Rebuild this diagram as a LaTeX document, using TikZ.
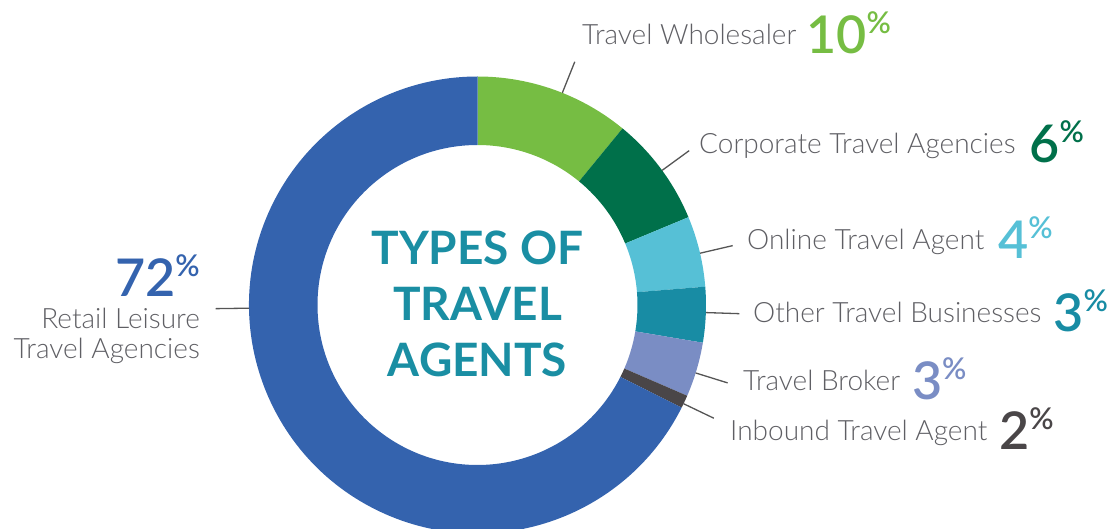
\documentclass[tikz,border=0pt]{standalone}
\usepackage{fontspec}
\setmainfont{Lato}
\newfontfamily\lightfont{Lato Light}
\newfontfamily\semifont{Lato Semibold}
\usepackage{tikz}
\usetikzlibrary{calc,positioning}

\definecolor{retailblue}{HTML}{3463AE}
\definecolor{wholegreen}{HTML}{76BD43}
\definecolor{corpgreen}{HTML}{00704A}
\definecolor{onlineblue}{HTML}{56C0D6}
\definecolor{otherteal}{HTML}{188CA4}
\definecolor{brokerlilac}{HTML}{7A8DC4}
\definecolor{inboundgray}{HTML}{4A4648}
\definecolor{textgray}{HTML}{5F5F64}
\definecolor{leadgray}{HTML}{555555}
\definecolor{titleteal}{HTML}{1A8EA3}

\newcommand{\share}[2]{{\color{#1}\fontsize{52}{52}\selectfont\semifont #2\raisebox{20pt}{\fontsize{30}{30}\selectfont\%}}}

\begin{document}
\begin{tikzpicture}[x=1pt, y=1pt,
    lbl/.style={anchor=base west, inner sep=0pt, text=textgray, font=\fontsize{28}{30}\selectfont\lightfont},
    lead/.style={draw=leadgray, line width=1.3pt},
    ttl/.style={anchor=base, inner sep=0pt, text=titleteal, font=\fontsize{46}{46}\selectfont\bfseries}]
    \useasboundingbox (0,0) rectangle (1114,528);
    \coordinate (C) at (477.5,223);

    \foreach \a/\b/\c in {90/50.6/wholegreen, 50.6/22.6/corpgreen, 22.6/4.6/onlineblue,
        4.6/-9.5/otherteal, -9.5/-23.4/brokerlilac, -23.4/-26.7/inboundgray, -26.7/-270/retailblue}
        \fill[\c] ($(C)+(\a:228.5)$) arc[start angle=\a, end angle=\b, radius=228.5]
            -- ($(C)+(\b:160)$) arc[start angle=\b, end angle=\a, radius=160] -- cycle;

    \foreach \n/\a in {whole/68.2, corp/36.1, online/13.1, other/-1.9, broker/-17.3, inbound/-25.6, retail/180.8} {
        \coordinate (\n-in) at ($(C)+(\a:228.5)$);
        \coordinate (\n-out) at ($(C)+(\a:262)$);
        \draw[lead] (\n-in) -- (\n-out);
    }

    \node[ttl] (types) at (477.5,263) {TYPES OF};
    \node[ttl] (travel) at (477.5,207) {TRAVEL};
    \node[ttl] (agents) at (477.5,151) {AGENTS};

    \node[lbl] (whole) at (582,483) {Travel Wholesaler\hspace{10pt}\raisebox{-9pt}{\share{wholegreen}{10}}};
    \node[lbl] (corp) at (699,374) {Corporate Travel Agencies\hspace{14pt}\raisebox{-9pt}{\share{corpgreen}{6}}};
    \node[lbl] (online) at (747,278) {Online Travel Agent\hspace{14pt}\raisebox{-9pt}{\share{onlineblue}{4}}};
    \node[lbl] (other) at (753,205.3) {Other Travel Businesses\hspace{12pt}\raisebox{-9pt}{\share{otherteal}{3}}};
    \node[lbl] (broker) at (743,137.3) {Travel Broker\hspace{12pt}\raisebox{-9pt}{\share{brokerlilac}{3}}};
    \node[lbl] (inbound) at (730,87.3) {Inbound Travel Agent\hspace{12pt}\raisebox{-9pt}{\share{inboundgray}{2}}};

    \node[anchor=base east, inner sep=0pt] (retailpct) at (200,231.3) {\share{retailblue}{72}};
    \node[lbl, anchor=base east] (retail) at (200,199.7) {Retail Leisure};
    \node[lbl, anchor=base east] (retail2) at (200,169.7) {Travel Agencies};
\end{tikzpicture}
\end{document}
